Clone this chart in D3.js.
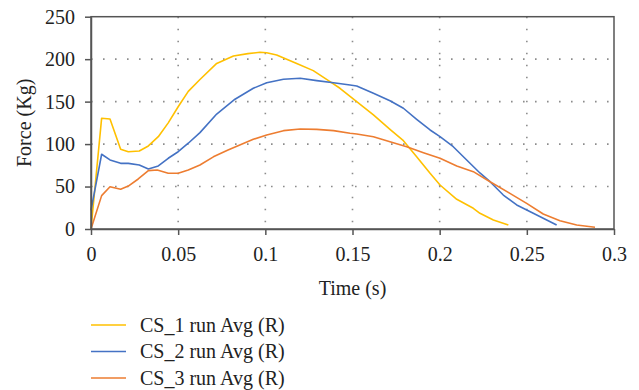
<!DOCTYPE html>
<html>
<head>
<meta charset="utf-8">
<script src="https://cdn.jsdelivr.net/npm/d3@7"></script>
<style>
  html, body { margin: 0; padding: 0; background: #fff; }
  svg text { font-family: 'Liberation Serif', 'Times New Roman', serif; }
</style>
</head>
<body>
<svg id="chart" width="639" height="390"></svg>
<script>
// Tick values for both axes
const xTicks = [0, 0.05, 0.1, 0.15, 0.2, 0.25, 0.3];
const yTicks = [0, 50, 100, 150, 200, 250];

// Series names and colours
const seriesNames = ["CS_1 run Avg (R)", "CS_2 run Avg (R)", "CS_3 run Avg (R)"];
const seriesColors = ["#FFC000", "#4472C4", "#ED7D31"];

// CS_1 run average: time (s) and force (Kg)
const cs1Time = [0, 0.0061, 0.0109, 0.017, 0.0214, 0.0277, 0.0329, 0.0386, 0.0443, 0.05,
  0.0558, 0.0625, 0.0721, 0.0817, 0.09, 0.0969, 0.1008, 0.1065, 0.118, 0.1275, 0.1371,
  0.1428, 0.1524, 0.162, 0.1715, 0.1792, 0.1868, 0.1945, 0.2002, 0.2098, 0.2193, 0.2231,
  0.2308, 0.2394];
const cs1Force = [0, 130.5, 129.6, 93.9, 91, 91.9, 97.8, 108.7, 125, 144,
  162, 176, 195, 203.8, 206.5, 208.1, 207.5, 205, 195, 186.5, 173.5,
  165.7, 150, 134.3, 117.4, 104, 85.2, 65.6, 51.8, 35, 24.4, 18.5,
  10.6, 4.7];

// CS_2 run average
const cs2Time = [0, 0.0061, 0.0109, 0.017, 0.0214, 0.0277, 0.0329, 0.0386, 0.0443, 0.05,
  0.0558, 0.0625, 0.0721, 0.0826, 0.0931, 0.1008, 0.1104, 0.12, 0.1295, 0.1391, 0.1486,
  0.1524, 0.162, 0.1715, 0.1792, 0.1868, 0.1945, 0.2002, 0.2078, 0.2155, 0.2231, 0.2289,
  0.2365, 0.2442, 0.2537, 0.2614, 0.2671];
const cs2Force = [22, 88, 81.3, 77.3, 77.3, 75.4, 70.7, 74.2, 83.3, 91,
  101, 113.5, 135.4, 152.8, 165.7, 172.3, 176.3, 177.5, 174.7, 172.3, 169.6,
  168.4, 159.8, 151.1, 142.2, 129.2, 116.6, 108.7, 96.9, 81.3, 66, 55.7,
  40, 28.3, 18.5, 10.6, 4.7];

// CS_3 run average
const cs3Time = [0, 0.0061, 0.0109, 0.017, 0.0214, 0.0271, 0.0329, 0.038, 0.0443, 0.05,
  0.0558, 0.0625, 0.0702, 0.0786, 0.0931, 0.1008, 0.1104, 0.12, 0.1295, 0.1391, 0.1486,
  0.1524, 0.162, 0.1715, 0.1811, 0.1907, 0.2002, 0.2098, 0.2193, 0.2289, 0.2403, 0.2499,
  0.2594, 0.269, 0.2786, 0.2891];
const cs3Force = [0, 39.3, 49.8, 46.8, 50.6, 58.9, 68.7, 69.5, 65.6, 65.6,
  69.5, 75.4, 85, 93, 105.6, 110.7, 115.8, 117.8, 117.3, 115.8, 112.7,
  111.9, 108.7, 102.8, 96.9, 89.9, 83.3, 74.2, 67.5, 55.7, 42, 30.2,
  17.7, 9.8, 4.7, 2];

const series = [
  { name: seriesNames[0], color: seriesColors[0], t: cs1Time, f: cs1Force },
  { name: seriesNames[1], color: seriesColors[1], t: cs2Time, f: cs2Force },
  { name: seriesNames[2], color: seriesColors[2], t: cs3Time, f: cs3Force }
];

const svg = d3.select("#chart");
const plot = { left: 91, right: 614, top: 16.7, bottom: 229 };
const axisColor = "#555";
const textColor = "#222";
const fontSize = 20;

const x = d3.scaleLinear().domain([0, 0.3]).range([plot.left, plot.right]);
const y = d3.scaleLinear().domain([0, 250]).range([plot.bottom, plot.top]);

// Dotted grid
const grid = svg.append("g").attr("stroke", "#8c8c8c").attr("stroke-width", 1.6)
  .attr("stroke-dasharray", "1.6,10.4");
grid.selectAll("line.v").data(xTicks.slice(1, -1)).join("line")
  .attr("x1", d => x(d)).attr("x2", d => x(d))
  .attr("y1", plot.top).attr("y2", plot.bottom);
grid.selectAll("line.h").data(yTicks.slice(1, -1)).join("line")
  .attr("x1", plot.left).attr("x2", plot.right)
  .attr("y1", d => y(d)).attr("y2", d => y(d));

// Data lines
const line = d3.line().x(d => x(d[0])).y(d => y(d[1]));
svg.append("g").selectAll("path").data(series).join("path")
  .attr("fill", "none")
  .attr("stroke", d => d.color)
  .attr("stroke-width", 1.6)
  .attr("stroke-linejoin", "round")
  .attr("d", d => line(d.t.map((t, i) => [t, d.f[i]])));

// Frame
svg.append("rect")
  .attr("x", plot.left).attr("y", plot.top)
  .attr("width", plot.right - plot.left).attr("height", plot.bottom - plot.top)
  .attr("fill", "none").attr("stroke", axisColor).attr("stroke-width", 1.5);

// Axes
const fmt = d => d === 0 ? "0" : String(+d.toFixed(2));
const xAxis = svg.append("g").attr("transform", `translate(0,${plot.bottom})`)
  .call(d3.axisBottom(x).tickValues(xTicks).tickFormat(fmt).tickSize(6).tickSizeOuter(0).tickPadding(12));
const yAxis = svg.append("g").attr("transform", `translate(${plot.left},0)`)
  .call(d3.axisLeft(y).tickValues(yTicks).tickSize(6).tickSizeOuter(0).tickPadding(10));
[xAxis, yAxis].forEach(a => {
  a.attr("font-family", null).attr("font-size", null);
  a.select(".domain").attr("stroke", axisColor).attr("stroke-width", 1.5);
  a.selectAll(".tick line").attr("stroke", axisColor).attr("stroke-width", 1.5);
  a.selectAll(".tick text").attr("fill", textColor).style("font-size", fontSize + "px");
});

// Axis titles
svg.append("text").attr("x", (plot.left + plot.right) / 2).attr("y", 295)
  .attr("text-anchor", "middle").style("font-size", fontSize + "px").attr("fill", textColor)
  .text("Time (s)");
svg.append("text")
  .attr("transform", `translate(31,${(plot.top + plot.bottom) / 2}) rotate(-90)`)
  .attr("text-anchor", "middle").style("font-size", fontSize + "px").attr("fill", textColor)
  .text("Force (Kg)");

// Legend
const legend = svg.append("g").selectAll("g").data(series).join("g")
  .attr("transform", (d, i) => `translate(91,${325 + i * 26.5})`);
legend.append("line").attr("x1", 0).attr("x2", 35).attr("y1", 0).attr("y2", 0)
  .attr("stroke", d => d.color).attr("stroke-width", 1.6);
legend.append("text").attr("x", 49).attr("y", 0).attr("dy", "0.33em")
  .style("font-size", fontSize + "px").attr("fill", textColor).text(d => d.name);
</script>
</body>
</html>
